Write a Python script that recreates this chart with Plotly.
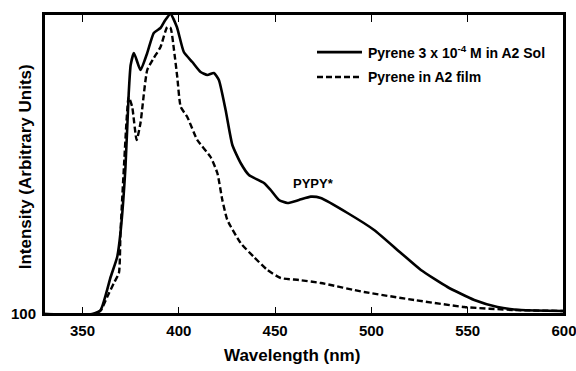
import plotly.graph_objects as go

# Data (wavelength in nm, intensity in arbitrary units)
sol_wl = [330, 355, 359.4, 364.6, 368, 369.7, 372.3, 374, 375, 376.7, 380.1, 383.6, 387, 390.5,
          393, 395.7, 399, 402.6, 407, 411.3, 414.8, 418.2, 420.8, 424.3, 427.8, 432.1, 436.4,
          444.2, 447.7, 452, 456.4, 462.4, 468.5, 473.7, 487.6, 501.4, 515.3, 525.7, 539.5,
          553.4, 565.5, 577.6, 600]
sol_int = [100, 100, 112, 211, 271, 343, 541, 763, 847, 883, 832, 883, 943, 958,
           982, 1000, 961, 886, 856, 826, 817, 823, 802, 712, 607, 553, 517,
           493, 472, 442, 433, 442, 452, 448, 403, 352, 283, 232, 181,
           142, 121, 112, 109]

film_wl = [330, 356, 359.4, 362.8, 366.3, 368.9, 369.7, 371.5, 374, 375.8, 378.1, 380.1, 383.6,
           387, 390.5, 394, 395.7, 397.5, 399.2, 401, 404.4, 409.6, 416.5, 420, 422.6, 425.2,
           432.1, 439, 446, 452.9, 462.4, 473.7, 496.2, 522.2, 548.2, 574.2, 600]
film_int = [100, 100, 110, 151, 193, 223, 343, 541, 751, 721, 622, 673, 832,
            868, 901, 961, 958, 892, 811, 721, 691, 622, 571, 523, 442, 382,
            313, 271, 232, 208, 202, 193, 166, 142, 121, 112, 109]

x_ticks = [350, 400, 450, 500, 550, 600]
y_ticks = [100]
sol_name = "Pyrene 3 x 10<sup>-4</sup> M in A2 Sol"
film_name = "Pyrene in A2 film"
peak_label = "PYPY*"
peak_wl, peak_int = 470, 452
x_title = "Wavelength (nm)"
y_title = "Intensity (Arbitrary Units)"

FONT = "Liberation Sans, Arial, Helvetica, sans-serif"

fig = go.Figure()
fig.add_trace(go.Scatter(x=sol_wl, y=sol_int, mode="lines", name=sol_name,
                         line=dict(color="black", width=2.6, shape="spline", smoothing=0.5),
                         showlegend=False))
fig.add_trace(go.Scatter(x=film_wl, y=film_int, mode="lines", name=film_name,
                         line=dict(color="black", width=2.4, dash="6px,3px", shape="spline", smoothing=0.5),
                         showlegend=False))
# invisible trace so the top (mirror) axis with ticks is drawn
fig.add_trace(go.Scatter(x=sol_wl, y=sol_int, xaxis="x2", mode="lines", opacity=0,
                         hoverinfo="skip", showlegend=False))

# frame around the plotting area
fig.add_shape(type="rect", xref="paper", yref="paper", x0=0, x1=1, y0=0, y1=1,
              line=dict(color="black", width=2), layer="above")

# legend drawn manually
for i, (name, dash) in enumerate([(sol_name, "solid"), (film_name, "6px,3px")]):
    yy = 0.873 - i * 0.083
    fig.add_shape(type="line", xref="paper", yref="paper", x0=0.525, x1=0.6115, y0=yy, y1=yy,
                  line=dict(color="black", width=2.6, dash=dash))
    fig.add_annotation(xref="paper", yref="paper", x=0.619, y=yy, text="<b>" + name + "</b>",
                       showarrow=False, xanchor="left", yanchor="middle",
                       font=dict(family=FONT, size=14, color="black"))

fig.add_annotation(x=peak_wl, y=peak_int, text="<b>" + peak_label + "</b>", showarrow=False,
                   xanchor="center", yanchor="bottom", yshift=4,
                   font=dict(family=FONT, size=13, color="black"))

# axis titles
fig.add_annotation(xref="paper", yref="paper", x=0.477, y=-0.137, text="<b>" + x_title + "</b>",
                   showarrow=False, xanchor="center", yanchor="middle",
                   font=dict(family=FONT, size=17, color="black"))
fig.add_annotation(xref="paper", yref="paper", x=-0.036, y=0.49, text="<b>" + y_title + "</b>",
                   showarrow=False, xanchor="center", yanchor="middle", textangle=-90,
                   font=dict(family=FONT, size=17, color="black"))

fig.update_layout(
    width=576, height=371,
    margin=dict(l=44, r=12, t=14, b=57, autoexpand=False),
    paper_bgcolor="white", plot_bgcolor="white",
    font=dict(family=FONT, color="black"),
    xaxis=dict(range=[330, 600], tickvals=x_ticks, ticktext=[f"<b>{v}</b>" for v in x_ticks],
               ticks="inside", ticklen=7, tickwidth=1.2, tickcolor="black",
               showline=True, linecolor="black", linewidth=2,
               showgrid=False, zeroline=False, tickfont=dict(size=15, family=FONT, color="black"),
               ticklabelstandoff=2, ticklabeloverflow="allow", automargin=False),
    xaxis2=dict(range=[330, 600], overlaying="x", side="top", matches="x", tickvals=x_ticks,
                showticklabels=False, ticks="inside", ticklen=8, tickwidth=1.2, tickcolor="black",
                showline=True, linecolor="black", linewidth=2,
                showgrid=False, zeroline=False, automargin=False),
    yaxis=dict(range=[100, 1000], tickvals=y_ticks, ticktext=[f"<b>{v}</b>" for v in y_ticks],
               ticks="", showline=True, linecolor="black", linewidth=2, mirror=True,
               showgrid=False, zeroline=False, tickfont=dict(size=15, family=FONT, color="black"),
               ticklabelstandoff=3, automargin=False),
)

fig.write_html("out.html")
